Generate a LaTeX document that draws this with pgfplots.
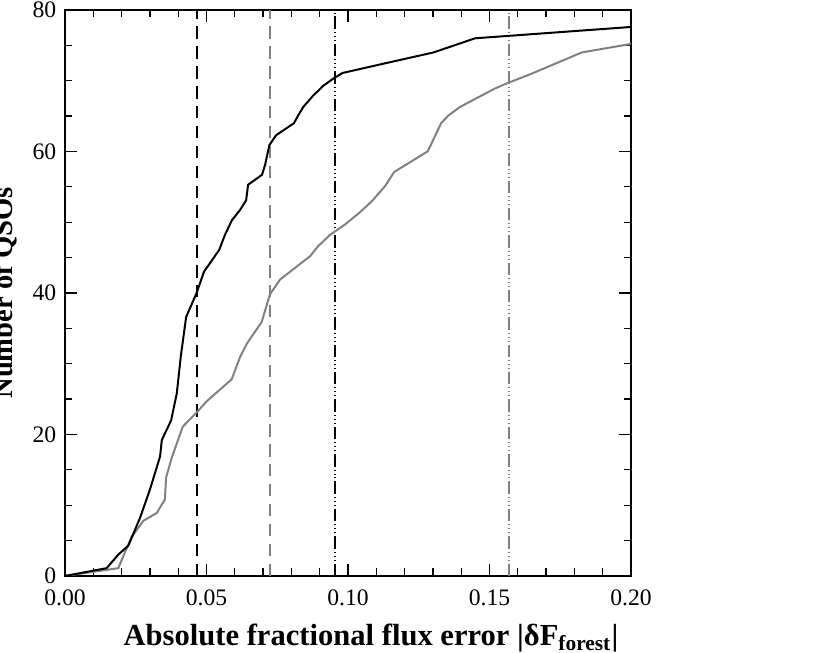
\documentclass[border=0pt]{standalone}
\usepackage{fontspec}
\setmainfont{Liberation Serif}
\usepackage{pgfplots}
\pgfplotsset{compat=1.18}
\definecolor{midgray}{RGB}{128,128,128}
\begin{document}
\begin{tikzpicture}
\begin{axis}[
    scale only axis,
    width=8cm, height=8cm,
    xmin=0, xmax=0.2,
    ymin=0, ymax=80,
    xtick={0,0.05,0.1,0.15,0.2},
    ytick={0,20,40,60,80},
    minor x tick num=4,
    minor y tick num=3,
    major tick length=5pt,
    minor tick length=3pt,
    tick style={black, line width=0.5pt},
    axis line style={line width=0.6pt},
    xticklabel style={yshift=-2pt, /pgf/number format/.cd, fixed, fixed zerofill, precision=2},
    /pgf/number format/assume math mode=true,
    tick label style={font=\fontsize{9.5}{11}\selectfont},
    xlabel={Absolute fractional flux error |δF\textsubscript{forest}|},
    ylabel={Number of QSOs},
    xlabel style={font=\fontsize{12.3}{14}\selectfont\bfseries, at={(axis description cs:0.5406,-0.1237)}, anchor=base},
    ylabel style={font=\fontsize{11.5}{13}\selectfont\bfseries, at={(axis description cs:-0.0936,0.5)}, anchor=base},
]
% reference lines
\addplot[black, line width=0.8pt, dash pattern=on 5pt off 3pt] coordinates {(0.0466,0) (0.0466,80)};
\addplot[midgray, line width=0.8pt, dash pattern=on 5pt off 3pt] coordinates {(0.0724,0) (0.0724,80)};
\addplot[black, line width=0.8pt, dash pattern=on 5pt off 1.2pt on 0.4pt off 1.2pt on 0.4pt off 1.2pt on 0.4pt off 1.2pt] coordinates {(0.0954,0) (0.0954,80)};
\addplot[midgray, line width=0.8pt, dash pattern=on 5pt off 1.2pt on 0.4pt off 1.2pt on 0.4pt off 1.2pt on 0.4pt off 1.2pt] coordinates {(0.1569,0) (0.1569,80)};
% cumulative curves
\addplot[midgray, line width=0.8pt] coordinates {
(0,0) (0.0188,1.1) (0.0235,5.5) (0.0277,7.8) (0.0324,8.9) (0.0353,10.8)
(0.0357,13.9) (0.0377,16.7) (0.0416,21.1) (0.0465,23.1) (0.0501,24.7)
(0.0589,27.8) (0.0618,30.9) (0.0642,32.8) (0.0695,35.9) (0.0724,39.8)
(0.076,41.9) (0.0866,45.2) (0.0894,46.6) (0.0936,48.2) (0.099,49.7)
(0.1042,51.4) (0.1085,53.0) (0.1131,55.1) (0.1163,57.1) (0.1281,60.0)
(0.129,60.7) (0.1329,64.0) (0.1355,65.1) (0.1396,66.3) (0.1519,68.9)
(0.1572,69.8) (0.1649,71.0) (0.1826,74.0) (0.1985,75.1) (0.2,75.2)};
\addplot[black, line width=0.8pt] coordinates {
(0,0) (0.0147,1.1) (0.0188,3.0) (0.0224,4.3) (0.0265,8.2) (0.030,12.2)
(0.0336,16.9) (0.0342,19.2) (0.0375,22.0) (0.0395,25.8) (0.0409,31.0)
(0.0428,36.6) (0.0465,40.0) (0.0491,43.0) (0.0545,46.1) (0.0565,48.2)
(0.059,50.3) (0.0618,51.7) (0.064,53.1) (0.0647,55.3) (0.0696,56.7)
(0.0707,58.1) (0.0722,60.9) (0.0746,62.3) (0.0809,64.0) (0.0824,65.1)
(0.0842,66.3) (0.0877,67.9) (0.0913,69.3) (0.0948,70.3) (0.0981,71.1)
(0.1113,72.3) (0.1302,74.0) (0.1449,76.0) (0.2,77.6)};
\end{axis}
\pgfresetboundingbox
\path[use as bounding box] (-0.919,-1.088) rectangle (10.813,8.141);
\end{tikzpicture}
\end{document}
